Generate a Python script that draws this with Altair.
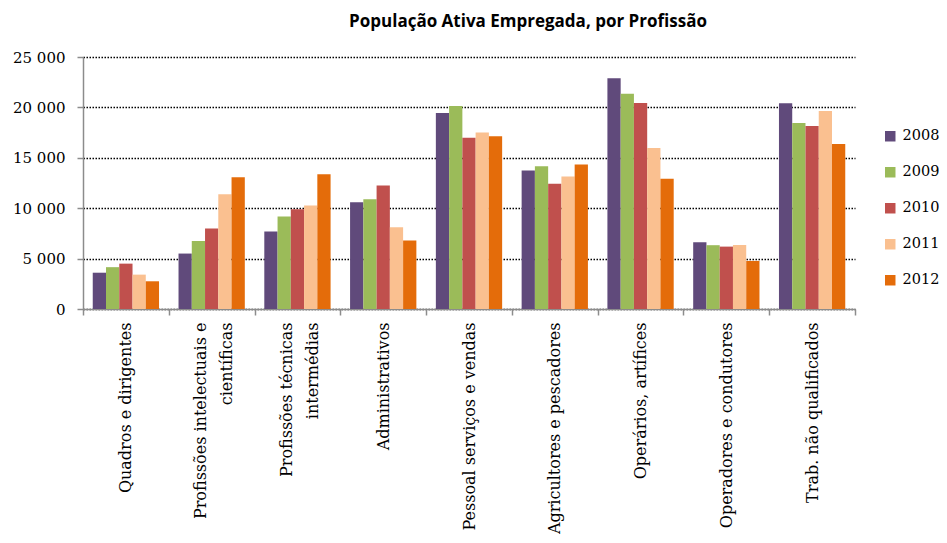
import altair as alt
import pandas as pd

categories = [
    "Quadros  e dirigentes",
    "Profissões intelectuais e|científicas",
    "Profissões técnicas|intermédias",
    "Administrativos",
    "Pessoal serviços e vendas",
    "Agricultores e pescadores",
    "Operários, artífices",
    "Operadores e condutores",
    "Trab. não qualificados",
]
years = ["2008", "2009", "2010", "2011", "2012"]
v2008 = [3600, 5500, 7700, 10600, 19450, 13750, 22900, 6620, 20400]
v2009 = [4150, 6750, 9170, 10900, 20150, 14170, 21350, 6330, 18440]
v2010 = [4500, 7980, 9900, 12250, 16990, 12420, 20430, 6190, 18150]
v2011 = [3410, 11390, 10270, 8110, 17520, 13150, 15960, 6360, 19640]
v2012 = [2750, 13080, 13380, 6790, 17150, 14340, 12910, 4770, 16360]
colors = ["#604A7B", "#9BBB59", "#C0504D", "#FAC090", "#E46C0A"]
y_ticks = [0, 5000, 10000, 15000, 20000, 25000]

series = [v2008, v2009, v2010, v2011, v2012]
rows = []
for yr, vals in zip(years, series):
    for c, v in zip(categories, vals):
        rows.append({"cat": c, "ano": yr, "valor": v})
df = pd.DataFrame(rows)

serif = "DejaVu Serif"
axis_gray = "#8C8C8C"

chart = alt.Chart(df).mark_bar().encode(
    x=alt.X(
        "cat:N",
        sort=categories,
        scale=alt.Scale(paddingInner=0, paddingOuter=0),
        axis=alt.Axis(
            title=None,
            labelAngle=-90,
            labelExpr="split(datum.label, '|')",
            labelFont=serif,
            labelFontSize=16,
            labelLineHeight=26,
            labelColor="black",
            labelPadding=7,
            labelOffset={"condition": {"test": "indexof(datum.label, '|') >= 0", "value": -11}, "value": 0},
            tickBand="extent",
            tickSize=6,
            tickColor=axis_gray,
            tickWidth=1.5,
            domainColor=axis_gray,
            domainWidth=1.5,
            grid=False,
            labelLimit=400,
        ),
    ),
    xOffset=alt.XOffset(
        "ano:N",
        sort=years,
        scale=alt.Scale(paddingInner=0, paddingOuter=0.735),
    ),
    y=alt.Y(
        "valor:Q",
        scale=alt.Scale(domain=[0, 25000], nice=False),
        axis=alt.Axis(
            title=None,
            values=y_ticks,
            labelExpr="replace(format(datum.value, ',d'), ',', ' ')",
            labelFont=serif,
            labelFontSize=15,
            labelColor="black",
            labelPadding=12,
            tickSize=6,
            tickColor=axis_gray,
            tickWidth=1.5,
            domainColor=axis_gray,
            domainWidth=1.5,
            grid=True,
            gridColor="black",
            gridDash=[1.5, 1.5],
            gridWidth=1.3,
        ),
    ),
    color=alt.Color(
        "ano:N",
        sort=years,
        scale=alt.Scale(domain=years, range=colors),
        legend=alt.Legend(
            title=None,
            orient="none",
            legendX=800,
            legendY=72,
            symbolType="square",
            symbolSize=110,
            symbolStrokeWidth=0,
            labelFont=serif,
            labelFontSize=14.5,
            labelColor="black",
            labelOffset=5,
            rowPadding=21,
            padding=0,
        ),
    ),
).properties(
    width=772,
    height=252,
    title=alt.TitleParams(
        "População Ativa Empregada, por Profissão",
        font="Open Sans",
        fontSize=17,
        fontWeight="bold",
        color="black",
        anchor="middle",
        dx=59,
        offset=19,
    ),
    autosize=alt.AutoSizeParams(type="none"),
    padding={"left": 75, "top": 49, "right": 84, "bottom": 226},
).configure_view(stroke=None)

chart.save("out.html", embed_options={"renderer": "svg", "actions": False})
